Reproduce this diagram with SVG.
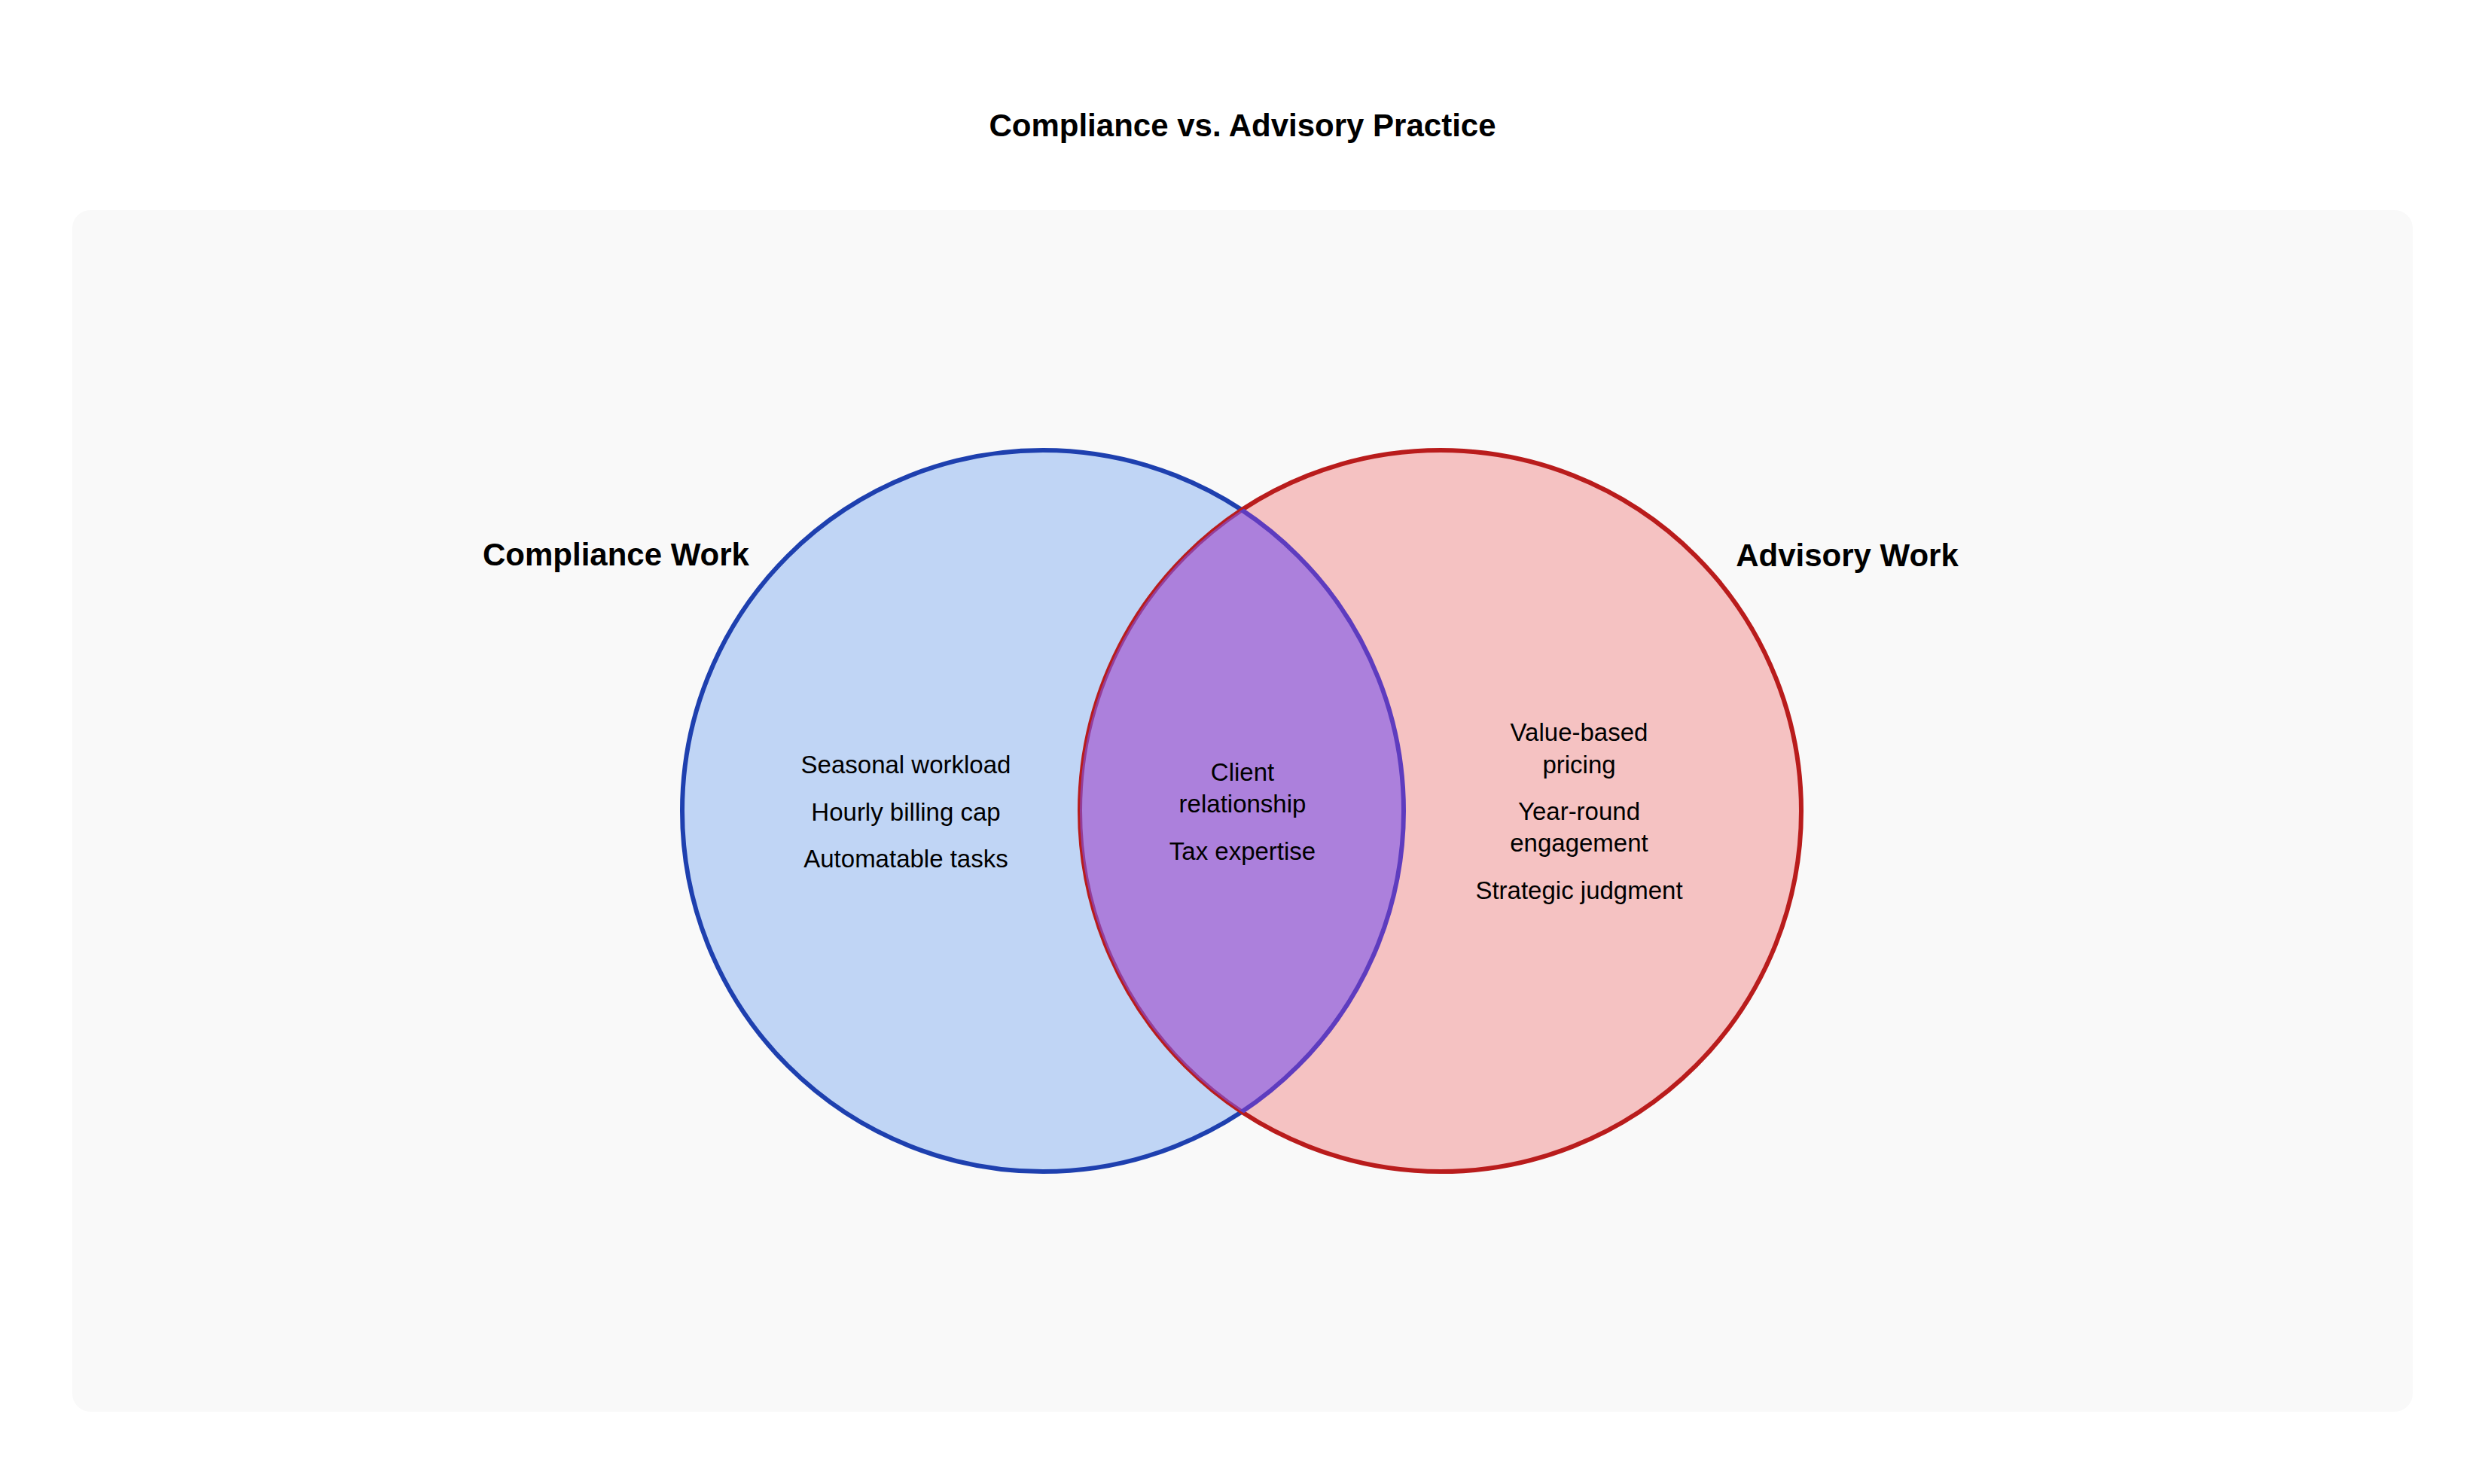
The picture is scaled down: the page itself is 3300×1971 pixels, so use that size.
<svg xmlns="http://www.w3.org/2000/svg" width="3300" height="1971" viewBox="0 0 3300 1971">
  <style>
    .title { font-family: "Liberation Sans", Arial, sans-serif; font-weight: bold; font-size: 42px; fill: #000; text-anchor: middle; }
    .setlabel { font-family: "Liberation Sans", Arial, sans-serif; font-weight: bold; font-size: 42px; fill: #000; text-anchor: middle; }
    .item { font-family: "Liberation Sans", Arial, sans-serif; font-size: 33px; fill: #000; text-anchor: middle; }
  </style>
  <defs>
    <clipPath id="clipLeft">
      <circle cx="1385" cy="1077" r="479"/>
    </clipPath>
    <clipPath id="clipRight">
      <circle cx="1913" cy="1077" r="479"/>
    </clipPath>
  </defs>
  <rect x="0" y="0" width="3300" height="1971" fill="#ffffff"/>
  <rect x="96" y="279" width="3108" height="1596" rx="24" ry="24" fill="#f9f9f9"/>
  <text class="title" x="1650" y="181">Compliance vs. Advisory Practice</text>

  <g id="compliance">
    <circle cx="1385" cy="1077" r="479" fill="#c0d5f5" stroke="#1e40af" stroke-width="6"/>
    <text class="setlabel" x="818" y="751">Compliance Work</text>
    <text class="item" x="1203" y="1027">Seasonal workload</text>
    <text class="item" x="1203" y="1090">Hourly billing cap</text>
    <text class="item" x="1203" y="1152">Automatable tasks</text>
  </g>

  <g id="advisory">
    <circle cx="1913" cy="1077" r="479" fill="#f5c2c2" stroke="#b91c1c" stroke-width="6"/>
    <text class="setlabel" x="2453" y="752">Advisory Work</text>
    <text class="item" x="2097" y="984">Value-based</text>
    <text class="item" x="2097" y="1027">pricing</text>
    <text class="item" x="2097" y="1089">Year-round</text>
    <text class="item" x="2097" y="1131">engagement</text>
    <text class="item" x="2097" y="1194">Strategic judgment</text>
  </g>

  <g id="overlap">
    <circle cx="1913" cy="1077" r="479" clip-path="url(#clipLeft)" fill="#7b54ed" fill-opacity="0.6"/>
    <circle cx="1385" cy="1077" r="479" clip-path="url(#clipRight)" fill="none" stroke="#5e3cbf" stroke-width="6"/>
    <text class="item" x="1650" y="1037">Client</text>
    <text class="item" x="1650" y="1079">relationship</text>
    <text class="item" x="1650" y="1142">Tax expertise</text>
  </g>

  <g id="connectors"></g>
</svg>
